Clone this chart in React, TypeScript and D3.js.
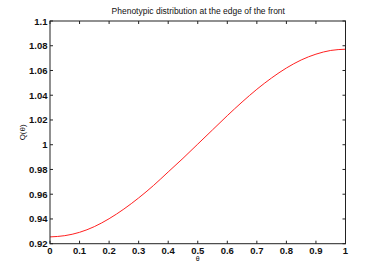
import React from "react";
import * as d3 from "d3";

const thetaValues = [0, 0.05, 0.1, 0.15, 0.2, 0.25, 0.3, 0.35, 0.4, 0.45, 0.5, 0.55, 0.6, 0.65, 0.7, 0.75, 0.8, 0.85, 0.9, 0.95, 1];
const qValues = [0.9255, 0.9265, 0.9292, 0.9338, 0.9402, 0.948, 0.957, 0.967, 0.978, 0.989, 1.0005, 1.012, 1.0235, 1.0345, 1.0448, 1.054, 1.062, 1.0685, 1.0732, 1.0762, 1.0772];
const xTicks = [0, 0.1, 0.2, 0.3, 0.4, 0.5, 0.6, 0.7, 0.8, 0.9, 1];
const yTicks = [0.92, 0.94, 0.96, 0.98, 1, 1.02, 1.04, 1.06, 1.08, 1.1];
const title = "Phenotypic distribution at the edge of the front";

export default function App() {
  const W = 382, H = 274;
  const left = 50, right = 345.5, top = 21, bottom = 243.7;
  const x = d3.scaleLinear().domain([0, 1]).range([left, right]);
  const y = d3.scaleLinear().domain([0.92, 1.1]).range([bottom, top]);
  const line = d3
    .line<number>()
    .x((_, i) => x(thetaValues[i]))
    .y((d) => y(d))
    .curve(d3.curveMonotoneX);
  const font = "'Liberation Sans', Arial, sans-serif";
  const tl = 3;
  return (
    <svg width={W} height={H} style={{ position: "absolute", left: 0, top: 0, background: "#fff" }}>
      <rect x={0} y={0} width={W} height={H} fill="#fff" />
      <path d={line(qValues) || ""} fill="none" stroke="#ff2020" strokeWidth={1} />
      <rect x={left} y={top} width={right - left} height={bottom - top} fill="none" stroke="#222" strokeWidth={1} />
      {xTicks.map((t) => (
        <g key={"x" + t}>
          <line x1={x(t)} x2={x(t)} y1={bottom} y2={bottom - tl} stroke="#222" />
          <line x1={x(t)} x2={x(t)} y1={top} y2={top + tl} stroke="#222" />
          <text x={x(t)} y={253.5} textAnchor="middle" fontFamily={font} fontWeight="bold" fontSize={9.5} fill="#111">
            {String(t)}
          </text>
        </g>
      ))}
      {yTicks.map((t) => (
        <g key={"y" + t}>
          <line x1={left} x2={left + tl} y1={y(t)} y2={y(t)} stroke="#222" />
          <line x1={right} x2={right - tl} y1={y(t)} y2={y(t)} stroke="#222" />
          <text x={47.5} y={y(t) + 3.5} textAnchor="end" fontFamily={font} fontWeight="bold" fontSize={9.5} fill="#111">
            {String(t)}
          </text>
        </g>
      ))}
      <text x={(left + right) / 2 + 0.5} y={14} textAnchor="middle" fontFamily={font} fontSize={8.5} fill="#111">
        {title}
      </text>
      <text x={x(0.5)} y={260.5} textAnchor="middle" fontFamily={font} fontSize={7} fill="#111">
        θ
      </text>
      <text transform={`translate(25, ${(top + bottom) / 2}) rotate(-90)`} textAnchor="middle" fontFamily={font} fontSize={8} fill="#111">
        Q(θ)
      </text>
    </svg>
  );
}
